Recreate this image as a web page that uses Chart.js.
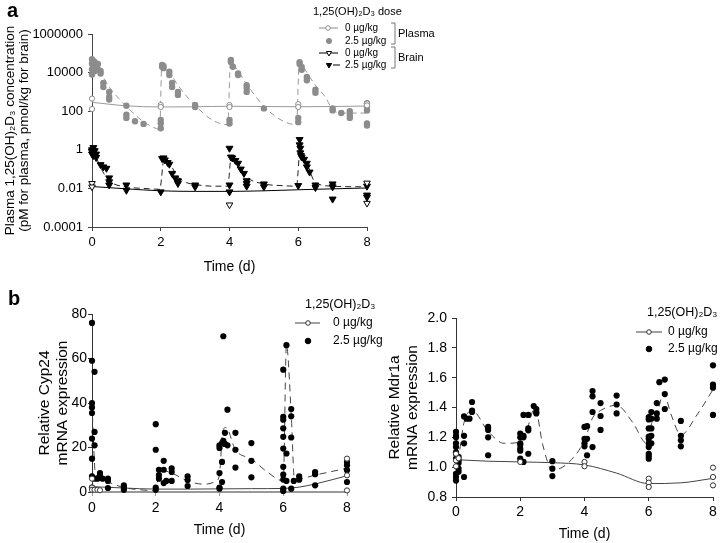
<!DOCTYPE html>
<html><head><meta charset="utf-8">
<script src="https://cdn.jsdelivr.net/npm/chart.js@4.4.1/dist/chart.umd.min.js"></script>
<style>
html,body{margin:0;padding:0;background:#fff;width:720px;height:543px;overflow:hidden;}
.c{position:absolute;}
canvas{display:block;}
</style></head><body>
<div class="c" style="left:0;top:0;"><canvas id="ca" width="720" height="280"></canvas></div>
<div class="c" style="left:0;top:280px;"><canvas id="cb" width="390" height="263"></canvas></div>
<div class="c" style="left:360px;top:280px;"><canvas id="cc" width="360" height="263"></canvas></div>
<script>
// ---------- DATA ----------
const timeTicks = [0, 2, 4, 6, 8];
const logTicks = [0.0001, 0.01, 1, 100, 10000, 1000000];
const cypTicks = [0, 20, 40, 60, 80];
const mdrTicks = [0.8, 1.0, 1.2, 1.4, 1.6, 1.8, 2.0];

// Panel a: plasma, 0 ug/kg (open circles) and fit
const plasmaCtrlPts = [[0,450],[0,130],[2,210],[2,165],[4,210],[4,165],[6,230],[6,165],[8,250],[8,200]];
const plasmaCtrlLine = [[0,290],[0.5,230],[1,190],[2,165],[3,170],[4,180],[5,175],[6,170],[7,175],[8,185]];
// Panel a: plasma, 2.5 ug/kg (filled grey dots) and fit
const plasmaDosedPts = [[0,50000],[0,30000],[0,15000],[0,8000],[0.04,40000],[0.04,25000],[0.04,18000],
 [0.08,35000],[0.08,20000],[0.08,12000],[0.17,28000],[0.17,15000],[0.25,12000],[0.25,9000],[0.33,2900],[0.33,1800],
 [0.5,1000],[0.5,550],[0.5,400],[1,190],[1,65],[1,45],[1.25,30],[1.5,22],[2,35],[2,24],[2,13],
 [2.04,25000],[2.04,20000],[2.08,22000],[2.08,17000],[2.25,11000],[2.25,7500],[2.33,2900],[2.33,1800],[2.5,1000],[2.5,700],
 [3,210],[3,165],[4,35],[4,23],[4.04,45000],[4.04,35000],[4.1,20000],[4.25,9000],[4.25,7500],[4.5,2200],[4.5,1600],[4.5,1000],
 [5,140],[6,45],[6,27],[6.04,35000],[6.04,28000],[6.1,19500],[6.1,14000],[6.25,6000],[6.25,4000],[6.5,1300],[6.5,900],
 [7,140],[7,110],[7.25,80],[7.5,100],[7.5,63],[7.5,45],[8,260],[8,170],[8,110],[8,23],[8,18]];
const plasmaDosedLine = [[0,30000],[0.1,25000],[0.25,10000],[0.5,1800],[1,180],[1.5,28],[1.9,12],[1.97,11],
 [2.03,25000],[2.1,22000],[2.25,11000],[2.5,2200],[3,200],[3.5,35],[3.95,20],
 [4.03,35000],[4.1,28000],[4.25,12000],[4.5,2500],[5,180],[5.5,35],[5.95,20],
 [6.03,35000],[6.1,28000],[6.25,10000],[6.5,2200],[6.8,500],[7,120],[7.3,80],[8,80]];
// Panel a: brain, 0 ug/kg (open triangles) and fit
const brainCtrlPts = [[0,0.018],[0,0.012],[4,0.0014],[8,0.019],[8,0.0017]];
const brainCtrlLine = [[0,0.0125],[1,0.0095],[2,0.0075],[3,0.007],[4,0.007],[5,0.0075],[6,0.0085],[7,0.0095],[8,0.0105]];
// Panel a: brain, 2.5 ug/kg (filled triangles) and fit
const brainDosedPts = [[0,1.0],[0,0.8],[0,0.6],[0.04,1.3],[0.04,0.7],[0.04,0.5],[0.08,0.9],[0.08,0.55],[0.12,0.6],[0.12,0.4],
 [0.25,0.17],[0.33,0.13],[0.42,0.11],[0.5,0.035],[0.5,0.022],[0.5,0.015],[1,0.015],[1,0.008],[2,0.0066],
 [2.04,0.35],[2.08,0.38],[2.12,0.3],[2.2,0.22],[2.25,0.18],[2.33,0.06],[2.42,0.035],[2.5,0.025],[2.5,0.018],[3,0.015],[3,0.012],
 [4,1.2],[4,0.015],[4,0.0066],[4.04,0.42],[4.08,0.38],[4.17,0.28],[4.25,0.2],[4.33,0.1],[4.42,0.06],[4.5,0.025],[4.5,0.018],[4.5,0.013],
 [5,0.017],[5,0.012],[6,0.014],[6.04,3.4],[6.04,1.8],[6.06,1.2],[6.06,0.7],[6.08,0.5],[6.1,0.42],[6.17,0.32],[6.25,0.2],[6.25,0.13],
 [6.33,0.07],[6.5,0.015],[6.5,0.011],[7,0.017],[7,0.012],[7,0.0028],[8,0.013],[8,0.0045],[8,0.0035]];
const brainDosedLine = [[0,0.8],[0.1,0.5],[0.25,0.12],[0.5,0.025],[1,0.012],[1.5,0.01],[1.97,0.009],
 [2.1,0.35],[2.25,0.2],[2.5,0.04],[2.75,0.02],[3,0.016],[3.5,0.013],[3.95,0.013],
 [4.05,0.45],[4.25,0.2],[4.5,0.04],[5,0.017],[5.5,0.014],[5.95,0.013],
 [6.05,0.8],[6.25,0.2],[6.5,0.02],[7,0.013],[8,0.012]];

// Panel b left: Cyp24
const cypCtrlPts = [[0,6],[0,2],[0,1],[0.08,1],[0.17,1],[0.25,0.8],[8,15],[8,7.5],[8,0.7]];
const cypCtrlLine = [[0,2.4],[1,1.8],[2,1.3],[3,1.3],[4,1.4],[5,1.5],[6,1.6],[6.5,2.2],[7,3.6],[8,7.3]];
const cypDosedPts = [[0,76],[0,59],[0,40],[0,38],[0,35.5],[0,24],[0,15],[0,7],[0,2],
 [0.08,54],[0.08,27],[0.08,21],[0.08,6],[0.17,6],[0.25,8.5],[0.25,7.6],[0.25,6.3],[0.33,6],[0.5,6],[0.5,5],[0.5,1.8],
 [1,3],[1,2],[1,1],[2,30.5],[2,19],[2,2],[2,1],[2.1,10],[2.1,7.6],[2.1,6],[2.25,14],[2.25,10],[2.25,4],[2.33,5],
 [2.5,10.6],[2.5,9],[2.5,5],[3,7],[3,5.4],[3,2.7],[4,21],[4,19.8],[4,8.5],[4,2],[4,1.5],
 [4.08,13.5],[4.08,4.5],[4.08,22],[4.12,70],[4.12,23],[4.17,26.6],[4.17,21.6],[4.25,37],[4.25,21],
 [4.5,26.6],[4.5,19],[4.5,11],[5,22],[5,14],[5,6.6],
 [6,55],[6,33.8],[6,32.5],[6,28.6],[6,24.8],[6,19.5],[6,11.3],[6,7.8],[6,5.6],[6,1.5],[6,0.5],
 [6.1,66],[6.1,17.3],[6.1,5],[6.25,37.3],[6.25,34],[6.25,24.5],[6.25,1.5],[6.33,5],[6.5,7],[6.5,5.5],
 [7,9],[7,8],[7,3],[8,13.5],[8,12],[8,9.8],[8,4.5]];
const cypDosedLine = [[0,40],[0.04,25],[0.1,9],[0.25,6],[0.5,4.5],[1,2],[1.5,1],[2,0.6],[2.1,8],[2.25,9.5],[2.5,8.5],
 [3,5],[3.5,3.5],[3.9,5],[4,8],[4.1,27],[4.2,29],[4.5,19],[5,14.8],[5.5,9],[6,5],[6.1,66],[6.25,35],[6.35,6],[6.5,6],[7,7.6],[8,10.7]];

// Panel b right: Mdr1a
const mdrCtrlPts = [[0,1.09],[0,1.045],[0,1.006],[0.08,1.06],[2,1.035],[4,1.035],[4,1.006],[6,0.923],[6,0.896],[6,0.867],[8,0.997],[8,0.934],[8,0.878]];
const mdrCtrlLine = [[0,1.05],[1,1.04],[2,1.035],[3,1.03],[4,1.015],[5,0.96],[6,0.89],[7,0.895],[8,0.925]];
const mdrDosedPts = [[0,1.236],[0,1.21],[0,1.2],[0,1.16],[0,1.135],[0,1.1],[0,1.09],[0,1.057],[0,0.956],[0,0.934],[0,0.91],
 [0.08,1.07],[0.08,1.045],[0.08,1.028],[0.08,0.99],[0.08,0.97],[0.25,1.34],[0.25,1.21],[0.25,1.16],[0.25,0.934],
 [0.33,1.325],[0.42,1.325],[0.5,1.437],[0.5,1.38],[0.5,1.37],[1,1.27],[1,1.25],[1,1.2],[1,1.08],
 [2,1.225],[2,1.2],[2,1.16],[2,1.15],[2,1.125],[2,1.11],[2,1.057],[2.1,1.21],[2.1,1.2],[2.1,1.035],[2.1,1.35],
 [2.25,1.35],[2.25,1.26],[2.25,1.247],[2.25,1.09],[2.42,1.41],[2.5,1.39],[2.5,1.37],[2.5,1.36],
 [3,1.04],[3,0.99],[3,0.94],[4,1.27],[4,1.19],[4,1.16],[4,1.14],[4.08,1.275],[4.08,1.19],[4.08,1.08],
 [4.25,1.51],[4.25,1.475],[4.25,1.37],[4.25,1.135],[4.5,1.43],[4.5,1.343],[4.5,1.25],[5,1.48],[5,1.42],[5,1.36],
 [6,1.336],[6,1.32],[6,1.26],[6,1.205],[6,1.19],[6,1.16],[6,1.135],[6,1.09],[6,1.075],[6,1.057],
 [6.08,1.37],[6.08,1.325],[6.08,1.26],[6.08,1.21],[6.08,1.16],[6.25,1.43],[6.25,1.36],[6.25,1.325],[6.33,1.57],
 [6.5,1.587],[6.5,1.49],[6.5,1.39],[7,1.31],[7,1.21],[7,1.18],[7,1.14],[8,1.683],[8,1.553],[8,1.533],[8,1.35]];
const mdrDosedLine = [[0,1.045],[0.1,1.1],[0.25,1.3],[0.5,1.38],[1,1.24],[1.5,1.16],[1.93,1.165],[2.2,1.25],[2.46,1.4],
 [2.7,1.15],[3,0.98],[3.5,1.03],[4,1.18],[4.25,1.33],[4.5,1.38],[5,1.415],[5.5,1.3],[5.94,1.16],[6.1,1.3],[6.25,1.35],
 [6.46,1.495],[6.7,1.35],[7,1.216],[7.5,1.35],[8,1.52]];

// ---------- RENDERING ----------
const FONT = "'Liberation Sans', Arial, Helvetica, sans-serif";
Chart.defaults.font.family = FONT;
Chart.defaults.color = '#000';
const xy = a => a.map(p => ({x: p[0], y: p[1]}));

function scatterDs(arr, o) {
  return Object.assign({type:'scatter', data: xy(arr), showLine:false, clip:false, order:0,
    pointStyle:'circle', pointRadius:3, pointBorderWidth:1, pointRotation:0, pointHoverRadius:3}, o);
}
function lineDs(arr, o) {
  return Object.assign({type:'line', data: xy(arr), pointRadius:0, pointHoverRadius:0, fill:false,
    borderWidth:1, cubicInterpolationMode:'monotone', order:1, clip:false}, o);
}

function overlay(items) {
  return {id:'overlay', afterDraw(chart) {
    const ctx = chart.ctx; ctx.save();
    for (const it of items) {
      if (it.kind === 'text') {
        ctx.font = it.font; ctx.fillStyle = it.color || '#000';
        ctx.textAlign = 'left'; ctx.textBaseline = it.base || 'middle';
        ctx.fillText(it.text, it.x, it.y);
      } else if (it.kind === 'path') {
        ctx.beginPath(); ctx.setLineDash(it.dash || []);
        ctx.strokeStyle = it.color; ctx.lineWidth = it.width || 1;
        it.pts.forEach((p, i) => i ? ctx.lineTo(p[0], p[1]) : ctx.moveTo(p[0], p[1]));
        ctx.stroke(); ctx.setLineDash([]);
      } else if (it.kind === 'point') {
        ctx.fillStyle = it.fill; ctx.strokeStyle = it.stroke; ctx.lineWidth = 1;
        Chart.helpers.drawPoint(ctx, {pointStyle: it.style, radius: it.r, rotation: it.rot || 0, borderWidth: 1}, it.x, it.y);
      }
    }
    ctx.restore();
  }};
}

function axes(o) {
  return {
    x: {type:'linear', min:0, max:8,
      afterBuildTicks: s => { s.ticks = timeTicks.map(v => ({value:v})); },
      ticks:{font:{size:o.xFont}, color:'#000', padding:o.xPad, maxRotation:0},
      grid:{drawOnChartArea:false, drawTicks:true, tickLength:4, color:o.xColor, tickWidth:1},
      border:{color:o.xColor, width:o.xWidth},
      title:{display:true, text:'Time (d)', font:{size:14}, color:'#000', padding:{top:0, bottom:o.tPad}},
      afterFit: s => { s.height = o.xH; }
    },
    y: Object.assign({
      ticks:{font:{size:o.yFont}, color:'#000', padding:o.yPad, callback:o.fmt},
      grid:{drawOnChartArea:false, drawTicks:true, tickLength:4, color:o.yColor},
      border:{color:o.yColor, width:1},
      title:{display:true, text:o.yTitle, font:{size:o.yTFont, lineHeight:o.yTLH}, color:'#000', padding:{top:o.yTPad, bottom:0}},
      afterBuildTicks: s => { s.ticks = o.yTicks.map(v => ({value:v})); },
      afterFit: s => { s.width = o.yW; }
    }, o.yScale)
  };
}

const baseOpts = {responsive:false, animation:false, events:[],
  plugins:{legend:{display:false}, tooltip:{enabled:false}}};

// ----- Panel a -----
const grey = '#8c8c8c';
new Chart(document.getElementById('ca'), {
  type:'scatter',
  data:{datasets:[
    scatterDs(plasmaCtrlPts, {pointRadius:2.6, pointBackgroundColor:'#fff', pointBorderColor:grey}),
    scatterDs(plasmaDosedPts, {pointRadius:3.2, pointBackgroundColor:grey, pointBorderColor:grey, pointBorderWidth:0}),
    scatterDs(brainCtrlPts, {pointStyle:'triangle', pointRotation:180, pointRadius:3.8, pointBackgroundColor:'#fff', pointBorderColor:'#000'}),
    scatterDs(brainDosedPts, {pointStyle:'triangle', pointRotation:180, pointRadius:4, pointBackgroundColor:'#000', pointBorderColor:'#000'}),
    lineDs(plasmaCtrlLine, {borderColor:'#999'}),
    lineDs(plasmaDosedLine, {borderColor:'#999', borderDash:[6,4]}),
    lineDs(brainCtrlLine, {borderColor:'#000'}),
    lineDs(brainDosedLine, {borderColor:'#222', borderDash:[6,4]})
  ]},
  options: Object.assign({}, baseOpts, {
    layout:{padding:{left:0, top:34, right:353, bottom:0}},
    scales: axes({xFont:13, xPad:4, xColor:'#444', xWidth:1, tPad:4.6, xH:53,
      yFont:13, yPad:5, yColor:'#444', yW:92, yTicks:logTicks, fmt: v => String(v),
      yTitle:['Plasma 1,25(OH)\u2082D\u2083 concentration', '(pM for plasma, pmol/kg for brain)'],
      yTFont:13.5, yTLH:14/13.5, yTPad:3,
      yScale:{type:'logarithmic', min:0.0001, max:1000000}})
  }),
  plugins:[overlay([
    {kind:'text', text:'a', x:7, y:17, base:'alphabetic', font:'bold 20px ' + FONT},
    {kind:'text', text:'1,25(OH)\u2082D\u2083 dose', x:313, y:12, font:'11px ' + FONT},
    {kind:'path', pts:[[319,28],[338,28]], color:grey},
    {kind:'point', style:'circle', r:2.3, fill:'#fff', stroke:grey, x:328, y:28},
    {kind:'text', text:'0 \u00b5g/kg', x:345, y:28, font:'10px ' + FONT},
    {kind:'point', style:'circle', r:2.6, fill:grey, stroke:grey, x:329, y:41},
    {kind:'text', text:'2.5 \u00b5g/kg', x:345, y:41, font:'10px ' + FONT},
    {kind:'path', pts:[[319,53],[338,53]], color:'#000'},
    {kind:'point', style:'triangle', rot:180, r:3, fill:'#fff', stroke:'#000', x:329, y:53},
    {kind:'text', text:'0 \u00b5g/kg', x:345, y:53, font:'10px ' + FONT},
    {kind:'path', pts:[[333,65],[340,65]], color:'#000'},
    {kind:'point', style:'triangle', rot:180, r:3, fill:'#000', stroke:'#000', x:329, y:65},
    {kind:'text', text:'2.5 \u00b5g/kg', x:345, y:65, font:'10px ' + FONT},
    {kind:'path', pts:[[391,23],[395,23],[395,44],[391,44]], color:'#777'},
    {kind:'path', pts:[[391,47],[395,47],[395,68],[391,68]], color:'#777'},
    {kind:'text', text:'Plasma', x:398, y:34, font:'11px ' + FONT},
    {kind:'text', text:'Brain', x:398, y:58, font:'11px ' + FONT}
  ])]
});

// ----- Panel b left (Cyp24) -----
const dk = '#444';
new Chart(document.getElementById('cb'), {
  type:'scatter',
  data:{datasets:[
    scatterDs(cypCtrlPts, {pointRadius:2.6, pointBackgroundColor:'#fff', pointBorderColor:'#333'}),
    scatterDs(cypDosedPts, {pointRadius:3.1, pointBackgroundColor:'#000', pointBorderColor:'#000', pointBorderWidth:0}),
    lineDs(cypCtrlLine, {borderColor:dk}),
    lineDs(cypDosedLine, {borderColor:dk, borderDash:[7,5]})
  ]},
  options: Object.assign({}, baseOpts, {
    layout:{padding:{left:0, top:34, right:43, bottom:0}},
    scales: axes({xFont:14, xPad:3.6, xColor:'#999', xWidth:2, tPad:4.6, xH:51,
      yFont:14, yPad:1, yColor:'#333', yW:92, yTicks:cypTicks, fmt: v => String(v),
      yTitle:['Relative Cyp24', 'mRNA expression'], yTFont:15.5, yTLH:18/15.5, yTPad:36,
      yScale:{type:'linear', min:0, max:80}})
  }),
  plugins:[overlay([
    {kind:'text', text:'b', x:8, y:25, base:'alphabetic', font:'bold 20px ' + FONT},
    {kind:'text', text:'1,25(OH)\u2082D\u2083', x:305, y:25, font:'12.5px ' + FONT},
    {kind:'path', pts:[[295,43],[320,43]], color:dk},
    {kind:'point', style:'circle', r:2.3, fill:'#fff', stroke:'#333', x:308, y:43},
    {kind:'text', text:'0 \u00b5g/kg', x:333, y:43, font:'12px ' + FONT},
    {kind:'point', style:'circle', r:2.8, fill:'#000', stroke:'#000', x:308, y:61},
    {kind:'text', text:'2.5 \u00b5g/kg', x:333, y:61, font:'12px ' + FONT}
  ])]
});

// ----- Panel b right (Mdr1a) -----
new Chart(document.getElementById('cc'), {
  type:'scatter',
  data:{datasets:[
    scatterDs(mdrCtrlPts, {pointRadius:2.6, pointBackgroundColor:'#fff', pointBorderColor:'#333'}),
    scatterDs(mdrDosedPts, {pointRadius:3.1, pointBackgroundColor:'#000', pointBorderColor:'#000', pointBorderWidth:0}),
    lineDs(mdrCtrlLine, {borderColor:dk}),
    lineDs(mdrDosedLine, {borderColor:dk, borderDash:[7,5]})
  ]},
  options: Object.assign({}, baseOpts, {
    layout:{padding:{left:0, top:38, right:7, bottom:0}},
    scales: axes({xFont:14, xPad:2.6, xColor:'#333', xWidth:1, tPad:0, xH:46,
      yFont:14, yPad:5, yColor:'#333', yW:96, yTicks:mdrTicks, fmt: v => Number(v).toFixed(1),
      yTitle:['Relative Mdr1a', 'mRNA expression'], yTFont:15.5, yTLH:18/15.5, yTPad:26,
      yScale:{type:'linear', min:0.8, max:2.0}})
  }),
  plugins:[overlay([
    {kind:'text', text:'1,25(OH)\u2082D\u2083', x:287, y:33, font:'12.5px ' + FONT},
    {kind:'path', pts:[[276,52],[302,52]], color:dk},
    {kind:'point', style:'circle', r:2.3, fill:'#fff', stroke:'#333', x:289, y:52},
    {kind:'text', text:'0 \u00b5g/kg', x:308, y:52, font:'12px ' + FONT},
    {kind:'point', style:'circle', r:2.8, fill:'#000', stroke:'#000', x:289, y:69},
    {kind:'text', text:'2.5 \u00b5g/kg', x:308, y:69, font:'12px ' + FONT}
  ])]
});
</script>
</body></html>
